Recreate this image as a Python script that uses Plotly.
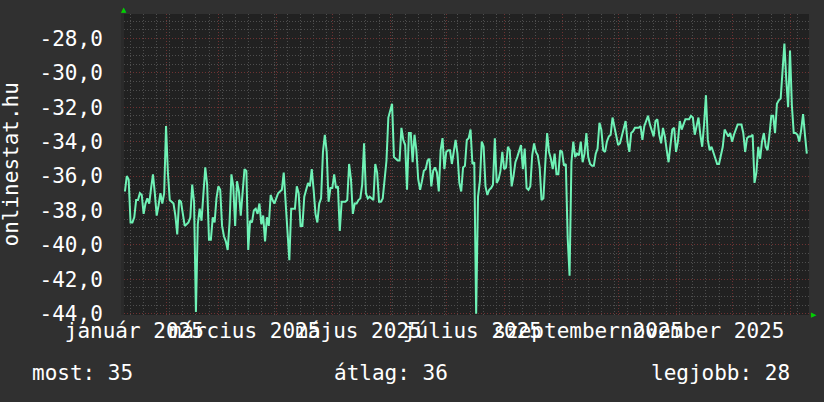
import plotly.graph_objects as go
import pandas as pd

start_day = '2025-01-10'
values = [
    -36.9, -36.0, -36.2, -38.7, -38.7, -38.4, -37.4, -37.4, -37.0, -37.1,
    -38.2, -37.6, -37.3, -37.6, -36.7, -35.9, -37.0, -38.3, -37.7, -37.0,
    -37.6, -37.0, -33.1, -35.8, -37.4, -37.5, -37.6, -38.3, -39.4, -37.4,
    -37.5, -38.2, -38.9, -38.8, -38.7, -38.4, -36.5, -37.5, -43.9, -38.8,
    -37.9, -38.6, -37.2, -35.5, -36.5, -39.7, -39.7, -38.4, -38.7, -37.3,
    -36.6, -36.8, -38.9, -39.5, -39.8, -40.3, -38.7, -35.9, -36.6, -38.9,
    -36.3, -36.9, -38.3, -37.0, -35.6, -35.7, -40.3, -38.6, -38.7, -38.0,
    -37.9, -38.2, -37.6, -38.8, -38.3, -39.8, -38.4, -38.9, -37.1, -37.4,
    -37.6, -37.3, -37.0, -36.9, -36.8, -35.8, -37.6, -39.5, -40.9, -37.9,
    -37.9, -37.9, -36.6, -37.0, -38.9, -38.9, -37.2, -36.7, -36.4, -36.6,
    -35.6, -36.8, -38.2, -38.7, -37.6, -37.3, -34.6, -33.6, -34.6, -37.5,
    -36.7, -36.7, -35.9, -36.7, -36.6, -39.2, -37.5, -37.5, -37.5, -37.4,
    -35.3, -36.2, -38.2, -37.6, -37.6, -37.4, -37.3, -36.5, -34.1, -37.0,
    -37.3, -37.2, -37.3, -37.4, -35.3, -35.8, -37.5, -37.5, -37.3, -36.2,
    -35.1, -32.6, -32.1, -31.8, -34.9, -35.0, -35.1, -35.1, -33.2, -33.9,
    -34.2, -36.8, -33.5, -33.5, -35.2, -33.6, -34.5, -36.2, -36.8, -36.3,
    -35.7, -35.6, -35.1, -35.0, -36.6, -35.7, -35.5, -35.8, -36.9, -34.5,
    -33.8, -35.6, -34.6, -34.5, -34.5, -35.3, -34.6, -33.9, -34.7, -36.4,
    -36.9, -35.5, -35.4, -33.9, -33.8, -33.3, -35.3, -35.2, -44.0, -37.2,
    -36.3, -34.0, -34.3, -36.6, -37.1, -36.8, -36.7, -36.5, -33.8, -36.4,
    -36.2, -35.7, -34.6, -35.6, -35.5, -34.3, -34.5, -36.6, -36.0, -35.2,
    -34.9, -34.6, -34.2, -35.6, -34.4, -36.7, -36.8, -36.6, -34.8, -34.1,
    -34.6, -34.8, -35.5, -37.4, -37.3, -35.3, -33.5, -34.6, -35.0, -35.6,
    -34.7, -35.9, -35.9, -34.5, -34.6, -35.4, -35.3, -39.6, -41.8, -35.2,
    -34.0, -34.9, -34.7, -34.8, -34.0, -35.2, -34.7, -33.5, -34.9, -35.3,
    -35.4, -35.4, -34.7, -34.4, -32.9, -33.3, -34.5, -34.6, -34.0, -33.7,
    -33.6, -32.6, -33.2, -33.7, -34.2, -34.1, -33.6, -33.2, -32.8, -34.0,
    -34.6, -33.5, -33.4, -33.2, -33.2, -33.2, -33.1, -33.9, -33.1, -32.8,
    -32.5, -33.0, -33.4, -33.7, -32.8, -32.7, -33.6, -34.1, -33.2, -33.7,
    -34.5, -35.2, -34.2, -33.3, -33.2, -34.6, -34.0, -32.8, -33.3, -33.0,
    -32.7, -32.7, -32.7, -32.5, -32.6, -33.6, -33.0, -32.6, -33.6, -34.3,
    -33.0, -31.3, -33.9, -34.5, -34.3, -34.6, -35.0, -35.3, -35.3, -34.8,
    -34.3, -33.3, -33.5, -33.7, -33.5, -34.0, -33.6, -33.3, -33.0, -33.0,
    -33.0, -33.5, -34.6, -33.8, -33.7, -33.7, -33.6, -36.4, -35.8, -34.3,
    -35.0, -34.0, -33.5, -34.3, -34.5, -33.6, -32.5, -32.5, -33.5, -31.8,
    -31.6, -31.5, -29.9, -28.3, -30.4, -32.0, -28.7, -31.9, -33.5, -33.5,
    -33.6, -34.0, -33.3, -32.4, -33.6, -34.7,
]
days = pd.date_range(start_day, periods=len(values), freq='D')

month_label_days = ['2025-01-15', '2025-03-15', '2025-05-15', '2025-07-15', '2025-09-15', '2025-11-15']
month_labels = ['január 2025', 'március 2025', 'május 2025', 'július 2025', 'szeptember 2025', 'november 2025']
y_ticks = [-44, -42, -40, -38, -36, -34, -32, -30, -28]
y_tick_labels = ['-44,0', '-42,0', '-40,0', '-38,0', '-36,0', '-34,0', '-32,0', '-30,0', '-28,0']
summary = ['most: 35', 'átlag: 36', 'legjobb: 28']

x_range = ['2025-01-09 12:00', '2026-01-11 04:00']
mono = 'DejaVu Sans Mono'
fsize = 21
red_grid = '#6e3232'
gray_grid = '#4e4e4e'
dots = '1px,2px'

fig = go.Figure()
fig.add_trace(go.Scatter(x=days, y=values, mode='lines', line={'color': '#6ff2b6', 'width': 2},
                         showlegend=False, hoverinfo='skip'))
# dummy trace so the label axis is drawn
fig.add_trace(go.Scatter(x=days[:1], y=values[:1], xaxis='x2', mode='lines',
                         line={'width': 0}, showlegend=False, hoverinfo='skip'))

fig.update_layout(
    width=824, height=402,
    margin=dict(l=124, r=15, t=14, b=87),
    paper_bgcolor='#303030', plot_bgcolor='#212121',
    font=dict(family=mono, size=fsize, color='#ffffff'),
    xaxis=dict(type='date', range=x_range, tickmode='linear', tick0='2025-01-01', dtick='M1',
               showticklabels=False, ticks='', showgrid=True, gridcolor=red_grid, griddash=dots,
               gridwidth=1, zeroline=False, showline=False,
               minor=dict(dtick=7 * 86400000, tick0='2025-01-13', showgrid=True,
                          gridcolor=gray_grid, griddash=dots, ticks='')),
    xaxis2=dict(type='date', range=x_range, overlaying='x', side='bottom', anchor='y',
                tickmode='array', tickvals=month_label_days, ticktext=month_labels,
                tickangle=0, showgrid=False, ticks='', zeroline=False, ticklabelstandoff=1,
                tickfont=dict(family=mono, size=fsize, color='#ffffff')),
    yaxis=dict(range=[-44.08, -26.58], tickmode='array', tickvals=y_ticks, ticktext=y_tick_labels,
               showgrid=True, gridcolor=red_grid, griddash=dots, zeroline=False,
               ticks='', ticklabelstandoff=14, showline=True, linecolor='#2a2a2a', linewidth=3,
               tickfont=dict(family=mono, size=fsize, color='#ffffff')),
)
fig.update_yaxes(minor=dict(dtick=0.5, tick0=-44, showgrid=True, gridcolor=gray_grid,
                            griddash=dots, ticks=''))

fig.add_annotation(text='onlinestat.hu', textangle=-90, xref='paper', yref='paper',
                   x=-0.165, y=0.5, xanchor='center', yanchor='middle', showarrow=False,
                   font=dict(family=mono, size=fsize, color='#ffffff'))
fig.add_annotation(text=summary[0], xref='paper', yref='paper', x=-0.137, y=-0.193,
                   xanchor='left', yanchor='middle', showarrow=False)
fig.add_annotation(text=summary[1], xref='paper', yref='paper', x=0.304, y=-0.193,
                   xanchor='left', yanchor='middle', showarrow=False)
fig.add_annotation(text=summary[2], xref='paper', yref='paper', x=0.975, y=-0.193,
                   xanchor='right', yanchor='middle', showarrow=False)

# green arrow heads at the axis ends
fig.add_annotation(text='▲', xref='paper', yref='paper', x=0, y=1.0, yshift=4,
                   xanchor='center', yanchor='middle', showarrow=False,
                   font=dict(family='DejaVu Sans', size=7, color='#00d000'))
fig.add_annotation(text='▶', xref='paper', yref='paper', x=1.0, y=0, xshift=5,
                   xanchor='center', yanchor='middle', showarrow=False,
                   font=dict(family='DejaVu Sans', size=7, color='#00d000'))

fig.write_html('out.html', config={'displayModeBar': False},
               post_script="document.body.style.margin='0px';document.body.style.backgroundColor='#303030';")
